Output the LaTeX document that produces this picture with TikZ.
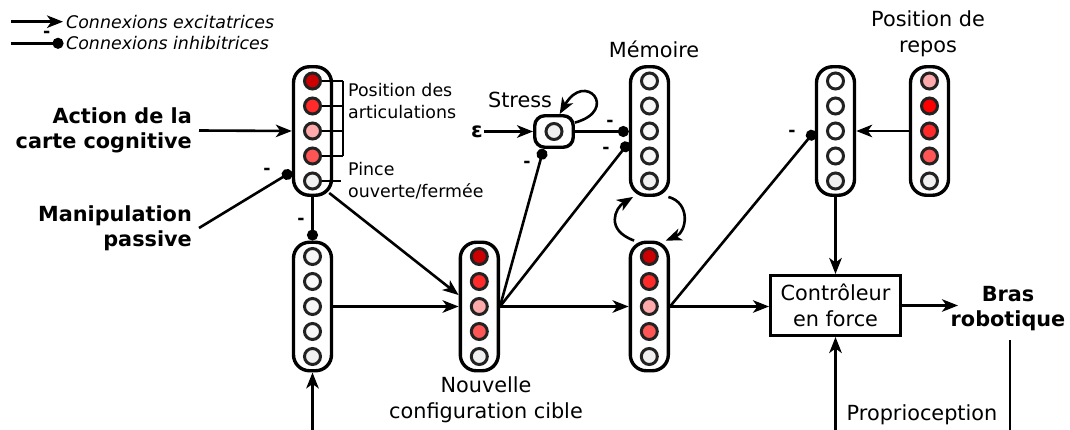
\documentclass[tikz,border=0pt]{standalone}
\usepackage{fontspec}
\setmainfont{DejaVu Sans}
\usetikzlibrary{arrows.meta,calc}
\definecolor{dred}{HTML}{CC0000}
\definecolor{rtwo}{HTML}{FF2A2A}
\definecolor{pinkc}{HTML}{FFAAAA}
\definecolor{rfour}{HTML}{FF5555}
\definecolor{greyc}{HTML}{F0F0F0}
\definecolor{whc}{HTML}{F7F7F7}
\definecolor{purered}{HTML}{FF0000}
\definecolor{rim}{HTML}{222222}
\tikzset{
 colbox/.style={draw, line width=3.4pt, rounded corners=16pt, minimum width=38pt, minimum height=128.5pt, inner sep=0pt, fill=white},
 neur/.style={circle, draw=rim, line width=3pt, minimum size=16pt, inner sep=0pt},
 exc/.style={-{Stealth[length=16pt,width=12.5pt,inset=4.5pt]}, line width=2.6pt},
 inh/.style={-{Circle[length=11pt]}, line width=2.6pt},
 conn/.style={line width=2.6pt},
 thinline/.style={line width=1.5pt},
 bigtxt/.style={font=\fontsize{20.8}{25.5}\selectfont, inner sep=2pt},
 boldtxt/.style={font=\fontsize{20.8}{25}\selectfont\bfseries, inner sep=2pt},
 smalltxt/.style={font=\fontsize{17.4}{21.7}\selectfont, inner sep=2pt},
 legtxt/.style={font=\fontsize{17.4}{21}\selectfont\itshape, inner sep=1pt},
 minuslbl/.style={font=\fontsize{17.4}{20}\selectfont\bfseries, inner sep=0pt},
}
\newcommand{\neurcol}[3]{%
  \node[colbox] (#1) at (#2) {};
  \foreach \cl [count=\i] in {#3} {
    \node[neur, fill=\cl] (#1-\i) at ($(#1)+(0,{(\i-3)*25})$) {};
  }
}
\begin{document}
\begin{tikzpicture}[x=1pt,y=-1pt]
\useasboundingbox (0,0) rectangle (1070,430);

% columns
\neurcol{A}{312.5,131}{dred,rtwo,pinkc,rfour,greyc}
\neurcol{B}{312.5,306.5}{whc,whc,whc,whc,greyc}
\neurcol{C}{479.3,306.5}{dred,rtwo,pinkc,rfour,greyc}
\neurcol{D}{649.3,306.5}{dred,rtwo,pinkc,rfour,greyc}
\neurcol{E}{649.5,131}{whc,whc,whc,whc,greyc}
\neurcol{F}{835.5,131}{white,white,white,white,greyc}
\neurcol{G}{929.5,131}{pinkc,purered,rtwo,rfour,greyc}

% stress
\node[draw, line width=3.4pt, rounded corners=10pt, minimum width=38.5pt, minimum height=31.5pt, fill=white] (S) at (554,131.5) {};
\node[neur, fill=greyc] (Sc) at (S) {};

% controller
\node[draw, line width=3pt, minimum width=130pt, minimum height=60pt, align=center, bigtxt] (Ctrl) at (835.5,305.5) {Contrôleur\\en force};

% labels
\node[boldtxt, anchor=east, align=right] (act) at (194,130.5) {Action de la\\carte cognitive};
\node[boldtxt, anchor=east, align=right] (man) at (194,228) {Manipulation\\passive};
\node[boldtxt, align=center] (bras) at (1008,309) {Bras\\robotique};
\node[bigtxt] (stresslbl) at (520,100) {Stress};
\node[boldtxt, inner sep=1pt] (eps) at (477,131.5) {ε};
\node[bigtxt] (memlbl) at (654,49) {Mémoire};
\node[bigtxt, align=center] (repos) at (928,34) {Position de\\repos};
\node[bigtxt, align=center] (nouv) at (486,400) {Nouvelle\\configuration cible};
\node[bigtxt] (proprio) at (922,415) {Proprioception};
\node[smalltxt, anchor=west, align=left] (posart) at (346,101) {Position des\\articulations};
\node[smalltxt, anchor=west, align=left] (pince) at (346,181) {Pince\\ouverte/fermée};

% bracket
\coordinate (brx) at (343,0);
\coordinate (pinx) at (341,0);
\foreach \i in {1,...,4} \draw[thinline] (A-\i.east) -- (A-\i.east -| brx);
\draw[thinline] (A-1.east -| brx) -- (A-4.east -| brx);
\draw[thinline] (A-5.east) -- (A-5.east -| pinx);

% legend
\coordinate (la1) at (11,21.7);
\coordinate (la2) at (63,21.7);
\coordinate (lb1) at (11,43.3);
\coordinate (lb2) at (63.5,43.3);
\draw[exc] (la1) -- (la2);
\draw[inh] (lb1) -- (lb2);
\node[legtxt, anchor=west] (leg1) at (65,21.7) {Connexions excitatrices};
\node[legtxt, anchor=west] (leg2) at (65,43.3) {Connexions inhibitrices};
\node[minuslbl] (m0) at (46.7,34) {-};

% free ends
\coordinate (botB) at (312.5,430);
\coordinate (botC) at (835.5,430);
\coordinate (brasin) at (958,305.5);
\coordinate (brasout) at (1010,340);
\coordinate (brasbot) at (1010,430);

% connectors
\draw[exc] ([xshift=5pt]act.east) -- (A.west);
\draw[inh] ([xshift=5pt]man.east) -- (A.243);
\draw[inh] (A.south) -- (B.north);
\draw[exc] ($(A.south east)+(-4,-4)$) -- (C.151);
\draw[exc] (B.east) -- (C.west);
\draw[exc] (botB) -- (B.south);
\draw[exc] (C.east) -- (D.west);
\draw[inh] (C.east) -- (S.239);
\draw[inh] (C.east) -- (E.209);
\draw[inh] (S.east) -- (S.east -| E.west);
\draw[exc] (eps.east) -- (S.west);
\draw[exc] (S.23) .. controls (620,110) and (585,70) .. (S.72);
\draw[exc] (D.103) .. controls (605,230) and (615,208) .. (E.256);
\draw[exc] (E.-74) .. controls (691,203) and (687,232) .. (D.76);
\draw[inh] (D.east) -- (F.west);
\draw[exc] (D.east) -- (D.east -| Ctrl.west);
\draw[exc] (F.south) -- (Ctrl.north);
\draw[exc] (G.west) -- (F.east);
\draw[exc] (Ctrl.east) -- (brasin);
\draw[conn] (brasout) -- (brasbot);
\draw[exc] (botC) -- (Ctrl.south);

% minus signs
\node[minuslbl] (m1) at (267,171) {-};
\node[minuslbl] (m2) at (301,221) {-};
\node[minuslbl] (m3) at (527,164) {-};
\node[minuslbl] (m4) at (610,123) {-};
\node[minuslbl] (m5) at (606,150) {-};
\node[minuslbl] (m6) at (792,133) {-};
\end{tikzpicture}
\end{document}
